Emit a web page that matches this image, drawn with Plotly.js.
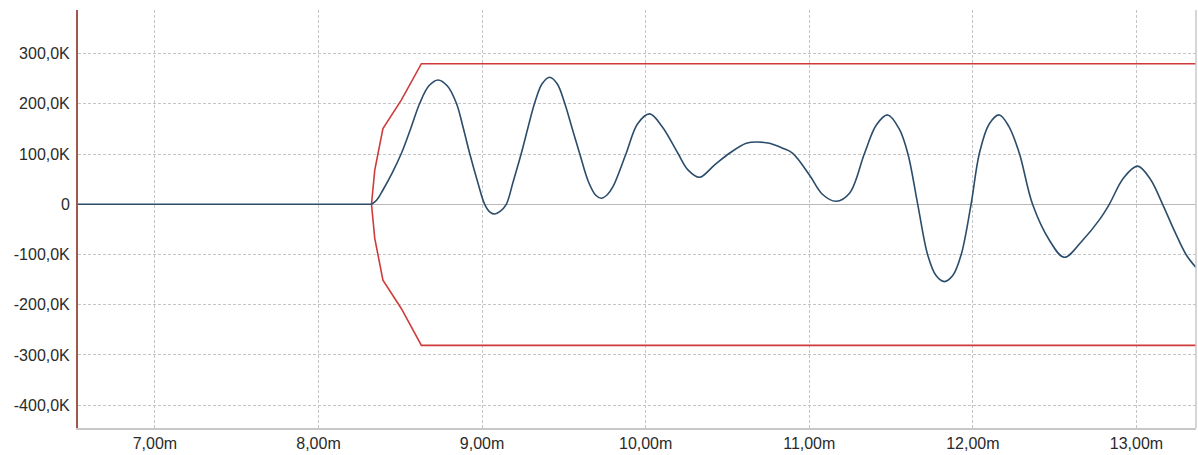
<!DOCTYPE html>
<html>
<head>
<meta charset="utf-8">
<script src="https://cdn.plot.ly/plotly-3.0.1.min.js"></script>
<style>html,body{margin:0;padding:0;background:#fff;}#chart{width:1198px;height:455px;}</style>
</head>
<body>
<div id="chart"></div>
<script>
// time in ms
const baselineX = [6.53, 8.324];
const baselineY = [0, 0];
const signalX = [8.324, 8.355, 8.394, 8.45, 8.507, 8.565, 8.619, 8.675, 8.731, 8.787, 8.843, 8.885, 8.924, 8.97, 9.016, 9.05, 9.077, 9.11, 9.148, 9.19, 9.240, 9.28, 9.321, 9.367, 9.413, 9.459, 9.505, 9.55, 9.596, 9.65, 9.695, 9.729, 9.765, 9.800, 9.881, 9.95, 10.024, 10.10, 10.197, 10.26, 10.329, 10.42, 10.512, 10.615, 10.684, 10.757, 10.838, 10.899, 11.001, 11.08, 11.164, 11.246, 11.338, 11.41, 11.480, 11.55, 11.602, 11.663, 11.724, 11.775, 11.826, 11.877, 11.928, 11.989, 12.040, 12.10, 12.162, 12.22, 12.284, 12.365, 12.467, 12.559, 12.67, 12.773, 12.834, 12.92, 13.007, 13.085, 13.160, 13.235, 13.303, 13.364];
const signalY = [0, 8000, 28500, 62000, 101600, 152000, 201200, 236000, 247600, 236000, 201200, 152000, 101600, 48000, 0, -16000, -19300, -14000, 0, 45000, 101600, 152000, 201200, 240000, 253000, 240000, 201200, 152000, 101600, 45000, 18000, 12000, 19000, 35000, 101600, 160000, 180000, 155000, 101600, 68000, 53800, 78000, 101600, 121500, 124000, 121500, 111600, 101600, 58400, 20000, 6000, 22000, 101600, 158000, 178000, 150000, 101600, 0, -101000, -142000, -154000, -142000, -101000, 0, 101600, 160000, 178000, 155000, 101600, 0, -71000, -105600, -72000, -31000, 0, 52000, 76000, 50000, 0, -55000, -100000, -126000];

const upperX = [8.324, 8.344, 8.394, 8.507, 8.629, 13.364];
const upperY = [0, 68000, 151000, 208000, 280000, 280000];
const lowerX = [8.324, 8.344, 8.394, 8.507, 8.629, 13.364];
const lowerY = [0, -68000, -151000, -208000, -281000, -281000];

const xTickVals = [7, 8, 9, 10, 11, 12, 13];
const xTickText = ['7,00m', '8,00m', '9,00m', '10,00m', '11,00m', '12,00m', '13,00m'];
const yTickVals = [300000, 200000, 100000, 0, -100000, -200000, -300000, -400000];
const yTickText = ['300,0K', '200,0K', '100,0K', '0', '-100,0K', '-200,0K', '-300,0K', '-400,0K'];

const red = '#cf3b3b';
const blue = '#2b4d6b';
const traces = [
  {x: upperX, y: upperY, mode: 'lines', line: {color: red, width: 1.6}, hoverinfo: 'skip'},
  {x: lowerX, y: lowerY, mode: 'lines', line: {color: red, width: 1.6}, hoverinfo: 'skip'},
  {x: baselineX, y: baselineY, mode: 'lines', line: {color: blue, width: 1.6}, hoverinfo: 'skip'},
  {x: signalX, y: signalY, mode: 'lines', line: {color: blue, width: 1.6, shape: 'spline', smoothing: 1}, hoverinfo: 'skip'}
];

const fontFam = '"Liberation Sans", Arial, sans-serif';
const layout = {
  width: 1198, height: 455,
  margin: {l: 78, r: 2, t: 10, b: 27},
  paper_bgcolor: '#ffffff', plot_bgcolor: '#ffffff',
  showlegend: false,
  font: {family: fontFam, size: 16, color: '#2a2a2a'},
  xaxis: {
    range: [6.53, 13.364],
    tickvals: xTickVals, ticktext: xTickText,
    showgrid: true, gridcolor: '#c4c4c4', griddash: '3px,2px', gridwidth: 1,
    zeroline: false,
    showline: true, linecolor: '#c8c8c8', linewidth: 1.5,
    ticks: '', ticklabelstandoff: 0,
    tickfont: {family: fontFam, size: 16, color: '#2a2a2a'}
  },
  yaxis: {
    range: [-445600, 387000],
    tickvals: yTickVals, ticktext: yTickText,
    showgrid: true, gridcolor: '#c4c4c4', griddash: '3px,2px', gridwidth: 1,
    zeroline: true, zerolinecolor: '#b8b8b8', zerolinewidth: 1,
    showline: true, linecolor: '#a0574c', linewidth: 2,
    ticks: '', ticklabelstandoff: 3,
    tickfont: {family: fontFam, size: 16, color: '#2a2a2a'}
  },
  shapes: [
    {type: 'line', xref: 'paper', yref: 'paper', x0: 1, x1: 1, y0: 0, y1: 1, line: {color: '#c8c8c8', width: 1.5}}
  ]
};
Plotly.newPlot('chart', traces, layout, {displayModeBar: false, staticPlot: true});
</script>
</body>
</html>
